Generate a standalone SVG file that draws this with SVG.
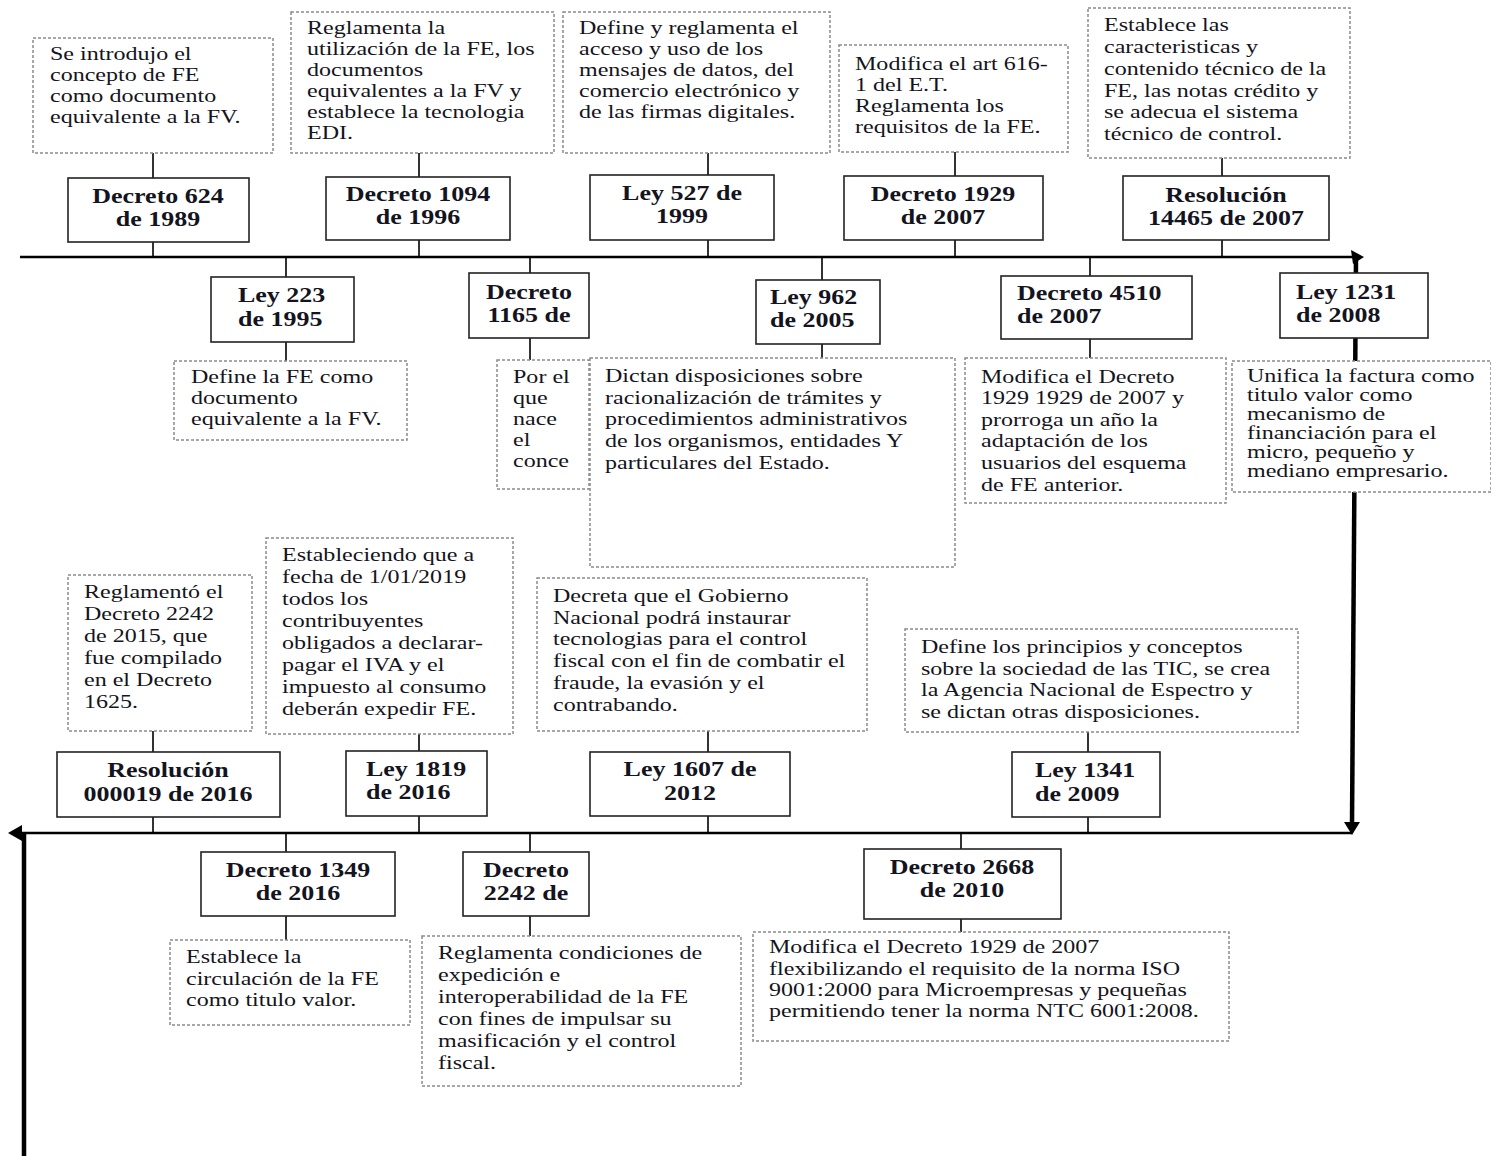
<svg xmlns="http://www.w3.org/2000/svg" width="1491" height="1156" viewBox="0 0 1491 1156">
<style>
.t{font-family:"Liberation Serif","Times New Roman",serif;font-size:18.5px;fill:#141420}
.b{font-family:"Liberation Serif","Times New Roman",serif;font-size:20px;font-weight:bold;fill:#141420}
.m{text-anchor:middle}
.dash{fill:#fff;stroke:#8a8a8a;stroke-width:1.5;stroke-dasharray:3 2}
.box{fill:#fff;stroke:#222;stroke-width:1.6}
.c{stroke:#333;stroke-width:2;fill:none}
.axis{stroke:#000;stroke-width:2.6;fill:none}
.thick{stroke:#000;stroke-width:4.5;fill:none}
.ah{fill:#000}
</style>
<g id="connectors">
  <line class="c" x1="153" y1="153" x2="153" y2="178"/><line class="c" x1="153" y1="242" x2="153" y2="257"/>
  <line class="c" x1="419" y1="153" x2="419" y2="177"/><line class="c" x1="419" y1="240" x2="419" y2="257"/>
  <line class="c" x1="708" y1="153" x2="708" y2="175"/><line class="c" x1="708" y1="240" x2="708" y2="257"/>
  <line class="c" x1="955" y1="152" x2="955" y2="176"/><line class="c" x1="955" y1="240" x2="955" y2="257"/>
  <line class="c" x1="1222" y1="158" x2="1222" y2="176"/><line class="c" x1="1222" y1="240" x2="1222" y2="257"/>
  <line class="c" x1="286" y1="257" x2="286" y2="277"/><line class="c" x1="286" y1="342" x2="286" y2="361"/>
  <line class="c" x1="530" y1="257" x2="530" y2="273"/><line class="c" x1="530" y1="338" x2="530" y2="360"/>
  <line class="c" x1="822" y1="257" x2="822" y2="280"/><line class="c" x1="822" y1="344" x2="822" y2="358"/>
  <line class="c" x1="1090" y1="257" x2="1090" y2="276"/><line class="c" x1="1090" y1="339" x2="1090" y2="358"/>
  <line class="c" x1="153" y1="731" x2="153" y2="752"/><line class="c" x1="153" y1="817" x2="153" y2="833"/>
  <line class="c" x1="419" y1="734" x2="419" y2="751"/><line class="c" x1="419" y1="816" x2="419" y2="833"/>
  <line class="c" x1="708" y1="731" x2="708" y2="752"/><line class="c" x1="708" y1="816" x2="708" y2="833"/>
  <line class="c" x1="1088" y1="732" x2="1088" y2="752"/><line class="c" x1="1088" y1="817" x2="1088" y2="833"/>
  <line class="c" x1="286" y1="833" x2="286" y2="852"/><line class="c" x1="286" y1="916" x2="286" y2="940"/>
  <line class="c" x1="530" y1="833" x2="530" y2="852"/><line class="c" x1="530" y1="916" x2="530" y2="936"/>
  <line class="c" x1="961" y1="833" x2="961" y2="849"/><line class="c" x1="961" y1="919" x2="961" y2="932"/>
  <line class="axis" x1="20" y1="257" x2="1356" y2="257"/>
  <polygon class="ah" points="1364,257 1351,250 1353,264"/>
  <line class="thick" x1="1356" y1="257" x2="1352" y2="824"/>
  <polygon class="ah" points="1352,835 1344,822 1360,822"/>
  <line class="axis" x1="1352" y1="833" x2="18" y2="833"/>
  <polygon class="ah" points="8,833 22,825 22,841"/>
  <line class="thick" x1="24" y1="833" x2="24" y2="1156"/>
</g>

<g id="n1">
  <rect class="dash" x="33" y="38" width="240" height="115"/>
  <text class="t" transform="translate(50 0) scale(1.3 1)"><tspan x="0" y="60">Se introdujo el</tspan><tspan x="0" y="81">concepto de FE</tspan><tspan x="0" y="102">como documento</tspan><tspan x="0" y="123">equivalente a la FV.</tspan></text>
  <rect class="box" x="68" y="178" width="181" height="64"/>
  <text class="b m" transform="translate(158 0) scale(1.3 1)"><tspan x="0" y="203">Decreto 624</tspan><tspan x="0" y="226">de 1989</tspan></text>
</g>

<g id="n2">
  <rect class="dash" x="291" y="12" width="263" height="141"/>
  <text class="t" transform="translate(307 0) scale(1.3 1)"><tspan x="0" y="34">Reglamenta la</tspan><tspan x="0" y="55">utilización de la FE, los</tspan><tspan x="0" y="76">documentos</tspan><tspan x="0" y="97">equivalentes a la FV y</tspan><tspan x="0" y="118">establece la tecnologia</tspan><tspan x="0" y="139">EDI.</tspan></text>
  <rect class="box" x="326" y="177" width="184" height="63"/>
  <text class="b m" transform="translate(418 0) scale(1.3 1)"><tspan x="0" y="201">Decreto 1094</tspan><tspan x="0" y="224">de 1996</tspan></text>
</g>

<g id="n3">
  <rect class="dash" x="563" y="12" width="267" height="141"/>
  <text class="t" transform="translate(579 0) scale(1.3 1)"><tspan x="0" y="34">Define y reglamenta el</tspan><tspan x="0" y="55">acceso y uso de los</tspan><tspan x="0" y="76">mensajes de datos, del</tspan><tspan x="0" y="97">comercio electrónico y</tspan><tspan x="0" y="118">de las firmas digitales.</tspan></text>
  <rect class="box" x="590" y="175" width="184" height="65"/>
  <text class="b m" transform="translate(682 0) scale(1.3 1)"><tspan x="0" y="200">Ley 527 de</tspan><tspan x="0" y="223">1999</tspan></text>
</g>

<g id="n4">
  <rect class="dash" x="839" y="45" width="229" height="107"/>
  <text class="t" transform="translate(855 0) scale(1.3 1)"><tspan x="0" y="70">Modifica el art 616-</tspan><tspan x="0" y="91">1 del E.T.</tspan><tspan x="0" y="112">Reglamenta los</tspan><tspan x="0" y="133">requisitos de la FE.</tspan></text>
  <rect class="box" x="844" y="176" width="199" height="64"/>
  <text class="b m" transform="translate(943 0) scale(1.3 1)"><tspan x="0" y="201">Decreto 1929</tspan><tspan x="0" y="224">de 2007</tspan></text>
</g>

<g id="n5">
  <rect class="dash" x="1088" y="8" width="262" height="150"/>
  <text class="t" transform="translate(1104 0) scale(1.3 1)"><tspan x="0" y="31">Establece las</tspan><tspan x="0" y="53">caracteristicas y</tspan><tspan x="0" y="75">contenido técnico de la</tspan><tspan x="0" y="97">FE, las notas crédito y</tspan><tspan x="0" y="118">se adecua el sistema</tspan><tspan x="0" y="140">técnico de control.</tspan></text>
  <rect class="box" x="1123" y="176" width="206" height="64"/>
  <text class="b m" transform="translate(1226 0) scale(1.3 1)"><tspan x="0" y="202">Resolución</tspan><tspan x="0" y="225">14465 de 2007</tspan></text>
</g>

<g id="n6">
  <rect class="box" x="211" y="277" width="143" height="65"/>
  <text class="b" transform="translate(238 0) scale(1.3 1)"><tspan x="0" y="302">Ley 223</tspan><tspan x="0" y="326">de 1995</tspan></text>
  <rect class="dash" x="174" y="361" width="233" height="79"/>
  <text class="t" transform="translate(191 0) scale(1.3 1)"><tspan x="0" y="383">Define la FE como</tspan><tspan x="0" y="404">documento</tspan><tspan x="0" y="425">equivalente a la FV.</tspan></text>
</g>

<g id="n7">
  <rect class="box" x="469" y="273" width="120" height="65"/>
  <text class="b m" transform="translate(529 0) scale(1.3 1)"><tspan x="0" y="299">Decreto</tspan><tspan x="0" y="322">1165 de</tspan></text>
  <rect class="dash" x="497" y="360" width="92" height="129"/>
  <text class="t" transform="translate(513 0) scale(1.3 1)"><tspan x="0" y="383">Por el</tspan><tspan x="0" y="404">que</tspan><tspan x="0" y="425">nace</tspan><tspan x="0" y="446">el</tspan><tspan x="0" y="467">conce</tspan></text>
</g>

<g id="n8">
  <rect class="box" x="756" y="280" width="124" height="64"/>
  <text class="b" transform="translate(770 0) scale(1.3 1)"><tspan x="0" y="304">Ley 962</tspan><tspan x="0" y="327">de 2005</tspan></text>
  <rect class="dash" x="590" y="358" width="365" height="209"/>
  <text class="t" transform="translate(605 0) scale(1.3 1)"><tspan x="0" y="382">Dictan disposiciones sobre</tspan><tspan x="0" y="404">racionalización de trámites y</tspan><tspan x="0" y="425">procedimientos administrativos</tspan><tspan x="0" y="447">de los organismos, entidades Y</tspan><tspan x="0" y="469">particulares del Estado.</tspan></text>
</g>

<g id="n9">
  <rect class="box" x="1001" y="276" width="191" height="63"/>
  <text class="b" transform="translate(1017 0) scale(1.3 1)"><tspan x="0" y="300">Decreto 4510</tspan><tspan x="0" y="323">de 2007</tspan></text>
  <rect class="dash" x="965" y="358" width="261" height="145"/>
  <text class="t" transform="translate(981 0) scale(1.3 1)"><tspan x="0" y="383">Modifica el Decreto</tspan><tspan x="0" y="404">1929 1929 de 2007 y</tspan><tspan x="0" y="426">prorroga un año la</tspan><tspan x="0" y="447">adaptación de los</tspan><tspan x="0" y="469">usuarios del esquema</tspan><tspan x="0" y="491">de FE anterior.</tspan></text>
</g>

<g id="n10">
  <rect class="box" x="1280" y="273" width="148" height="65"/>
  <text class="b" transform="translate(1296 0) scale(1.3 1)"><tspan x="0" y="299">Ley 1231</tspan><tspan x="0" y="322">de 2008</tspan></text>
  <rect class="dash" x="1232" y="361" width="259" height="131"/>
  <text class="t" transform="translate(1247 0) scale(1.3 1)"><tspan x="0" y="382">Unifica la factura como</tspan><tspan x="0" y="401">titulo valor como</tspan><tspan x="0" y="420">mecanismo de</tspan><tspan x="0" y="439">financiación para el</tspan><tspan x="0" y="458">micro, pequeño y</tspan><tspan x="0" y="477">mediano empresario.</tspan></text>
</g>

<g id="n11">
  <rect class="dash" x="68" y="575" width="184" height="156"/>
  <text class="t" transform="translate(84 0) scale(1.3 1)"><tspan x="0" y="598">Reglamentó el</tspan><tspan x="0" y="620">Decreto 2242</tspan><tspan x="0" y="642">de 2015, que</tspan><tspan x="0" y="664">fue compilado</tspan><tspan x="0" y="686">en el Decreto</tspan><tspan x="0" y="708">1625.</tspan></text>
  <rect class="box" x="57" y="752" width="223" height="65"/>
  <text class="b m" transform="translate(168 0) scale(1.3 1)"><tspan x="0" y="777">Resolución</tspan><tspan x="0" y="801">000019 de 2016</tspan></text>
</g>

<g id="n12">
  <rect class="dash" x="266" y="538" width="247" height="196"/>
  <text class="t" transform="translate(282 0) scale(1.3 1)"><tspan x="0" y="561">Estableciendo que a</tspan><tspan x="0" y="583">fecha de 1/01/2019</tspan><tspan x="0" y="605">todos los</tspan><tspan x="0" y="627">contribuyentes</tspan><tspan x="0" y="649">obligados a declarar-</tspan><tspan x="0" y="671">pagar el IVA y el</tspan><tspan x="0" y="693">impuesto al consumo</tspan><tspan x="0" y="715">deberán expedir FE.</tspan></text>
  <rect class="box" x="346" y="751" width="141" height="65"/>
  <text class="b" transform="translate(366 0) scale(1.3 1)"><tspan x="0" y="776">Ley 1819</tspan><tspan x="0" y="799">de 2016</tspan></text>
</g>

<g id="n13">
  <rect class="dash" x="537" y="578" width="330" height="153"/>
  <text class="t" transform="translate(553 0) scale(1.3 1)"><tspan x="0" y="602">Decreta que el Gobierno</tspan><tspan x="0" y="624">Nacional podrá instaurar</tspan><tspan x="0" y="645">tecnologias para el control</tspan><tspan x="0" y="667">fiscal con el fin de combatir el</tspan><tspan x="0" y="689">fraude, la evasión y el</tspan><tspan x="0" y="711">contrabando.</tspan></text>
  <rect class="box" x="590" y="752" width="200" height="64"/>
  <text class="b m" transform="translate(690 0) scale(1.3 1)"><tspan x="0" y="776">Ley 1607 de</tspan><tspan x="0" y="800">2012</tspan></text>
</g>

<g id="n14">
  <rect class="dash" x="905" y="629" width="393" height="103"/>
  <text class="t" transform="translate(921 0) scale(1.3 1)"><tspan x="0" y="653">Define los principios y conceptos</tspan><tspan x="0" y="675">sobre la sociedad de las TIC, se crea</tspan><tspan x="0" y="696">la Agencia Nacional de Espectro y</tspan><tspan x="0" y="718">se dictan otras disposiciones.</tspan></text>
  <rect class="box" x="1012" y="752" width="148" height="65"/>
  <text class="b" transform="translate(1035 0) scale(1.3 1)"><tspan x="0" y="777">Ley 1341</tspan><tspan x="0" y="801">de 2009</tspan></text>
</g>

<g id="n15">
  <rect class="box" x="201" y="852" width="194" height="64"/>
  <text class="b m" transform="translate(298 0) scale(1.3 1)"><tspan x="0" y="877">Decreto 1349</tspan><tspan x="0" y="900">de 2016</tspan></text>
  <rect class="dash" x="170" y="940" width="240" height="85"/>
  <text class="t" transform="translate(186 0) scale(1.3 1)"><tspan x="0" y="963">Establece la</tspan><tspan x="0" y="985">circulación de la FE</tspan><tspan x="0" y="1006">como titulo valor.</tspan></text>
</g>

<g id="n16">
  <rect class="box" x="463" y="852" width="126" height="64"/>
  <text class="b m" transform="translate(526 0) scale(1.3 1)"><tspan x="0" y="877">Decreto</tspan><tspan x="0" y="900">2242 de</tspan></text>
  <rect class="dash" x="422" y="936" width="319" height="150"/>
  <text class="t" transform="translate(438 0) scale(1.3 1)"><tspan x="0" y="959">Reglamenta condiciones de</tspan><tspan x="0" y="981">expedición e</tspan><tspan x="0" y="1003">interoperabilidad de la FE</tspan><tspan x="0" y="1025">con fines de impulsar su</tspan><tspan x="0" y="1047">masificación y el control</tspan><tspan x="0" y="1069">fiscal.</tspan></text>
</g>

<g id="n17">
  <rect class="box" x="864" y="849" width="197" height="70"/>
  <text class="b m" transform="translate(962 0) scale(1.3 1)"><tspan x="0" y="874">Decreto 2668</tspan><tspan x="0" y="897">de 2010</tspan></text>
  <rect class="dash" x="753" y="932" width="476" height="109"/>
  <text class="t" transform="translate(769 0) scale(1.3 1)"><tspan x="0" y="953">Modifica el Decreto 1929 de 2007</tspan><tspan x="0" y="975">flexibilizando el requisito de la norma ISO</tspan><tspan x="0" y="996">9001:2000 para Microempresas y pequeñas</tspan><tspan x="0" y="1017">permitiendo tener la norma NTC 6001:2008.</tspan></text>
</g>
</svg>
